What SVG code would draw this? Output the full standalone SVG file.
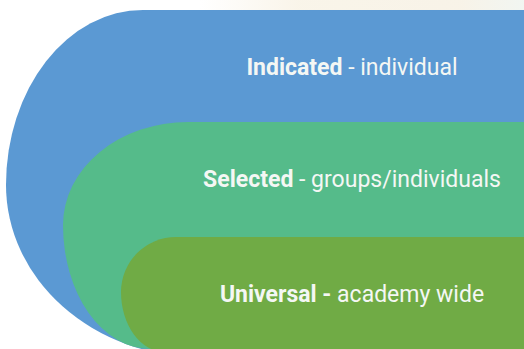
<svg xmlns="http://www.w3.org/2000/svg" width="524" height="349" viewBox="0 0 524 349">
  <defs>
    <linearGradient id="wm" x1="0" y1="0" x2="1" y2="0">
      <stop offset="0" stop-color="#f8f2e4" stop-opacity="0"/>
      <stop offset="0.3" stop-color="#f8f2e4" stop-opacity="0.8"/>
      <stop offset="0.8" stop-color="#f6f0e2" stop-opacity="0.8"/>
      <stop offset="1" stop-color="#eef3ee" stop-opacity="0.8"/>
    </linearGradient>
  </defs>
  <style>
    .lbl { font-family: Roboto, "Liberation Sans", sans-serif; font-size: 23px; fill: #f4f7f4; }
    .b { font-weight: bold; }
  </style>
  <rect width="524" height="349" fill="#ffffff"/>
  <rect x="200" y="0" width="324" height="10" fill="url(#wm)"/>
  <g id="indicated">
    <path d="M 524 10 H 143 A 137 175 0 0 0 6 185 A 194 172 0 0 0 200 357 H 524 Z" fill="#5b99d3"/>
    <text class="lbl" x="352" y="75" text-anchor="middle"><tspan class="b">Indicated</tspan> - individual</text>
  </g>
  <g id="selected">
    <path d="M 524 122 H 188 A 125 103 0 0 0 63 225 A 87 124 0 0 0 150 349 L 150 360 H 524 Z" fill="#55bb8a"/>
    <text class="lbl" x="352" y="187" text-anchor="middle"><tspan class="b">Selected</tspan> - groups/individuals</text>
  </g>
  <g id="universal">
    <path d="M 524 237 H 176 A 55 55 0 0 0 121 292 A 44 60 0 0 0 165 352 H 524 Z" fill="#70ab45"/>
    <text class="lbl" x="352" y="302" text-anchor="middle"><tspan class="b">Universal</tspan><tspan class="b"> -</tspan> academy wide</text>
  </g>
  <g id="connectors"/>
</svg>
